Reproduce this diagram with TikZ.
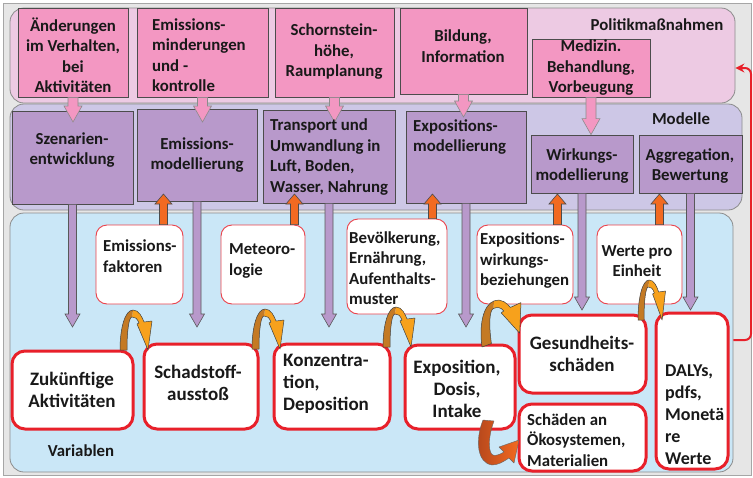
\documentclass[tikz,border=0pt]{standalone}
\usepackage{fontspec}
\setmainfont{Carlito}
\usetikzlibrary{fit,calc,arrows.meta}
\definecolor{frameBg}{HTML}{E6E6E6}
\definecolor{polBg}{HTML}{EDCAE3}
\definecolor{pinkBox}{HTML}{F397C2}
\definecolor{modBg}{HTML}{CDC7E6}
\definecolor{purpBox}{HTML}{B899CB}
\definecolor{varBg}{HTML}{CAE7F7}
\definecolor{redB}{HTML}{E8202A}
\definecolor{orangeUp}{HTML}{F26A21}
\definecolor{curvBrown}{HTML}{C47A24}
\definecolor{curvOrange}{HTML}{F7A11C}
\definecolor{darkBrown}{HTML}{B4461C}
\newcommand{\downblk}[6]{%
  \path[#1] let \p1=#2, \p2=#3 in
    (\x1-#4,\y1) -- (\x1-#4,\y2+#6) -- (\x1-#5,\y2+#6) -- (\x1,\y2) -- (\x1+#5,\y2+#6) -- (\x1+#4,\y2+#6) -- (\x1+#4,\y1) -- cycle;}
\newcommand{\upblk}[6]{%
  \path[#1] let \p1=#2, \p2=#3 in
    (\x1-#4,\y1) -- (\x1-#4,\y2-#6) -- (\x1-#5,\y2-#6) -- (\x1,\y2) -- (\x1+#5,\y2-#6) -- (\x1+#4,\y2-#6) -- (\x1+#4,\y1) -- cycle;}
\tikzset{
  panel/.style={draw=black!45, line width=0.8pt, rounded corners=14pt, inner sep=0pt},
  pbox/.style={draw=black!70, fill=pinkBox, line width=0.8pt, inner sep=0pt},
  mbox/.style={draw=black!70, fill=purpBox, line width=0.8pt, inner sep=0pt},
  wbox/.style={draw=redB!85, fill=white, line width=0.9pt, rounded corners=11pt, inner sep=0pt},
  vbox/.style={draw=redB, fill=white, line width=3pt, rounded corners=13pt, inner sep=0pt},
  tx/.style={font=\fontsize{16.8}{20.5}\selectfont\bfseries, align=center, inner sep=0pt, text=black!90},
  txl/.style={tx, align=left, anchor=west},
  txb/.style={font=\fontsize{19}{22}\selectfont\bfseries},
  pinkarr/.style={fill=pinkBox, draw=black!45, line width=0.6pt},
  purparr/.style={fill=purpBox, draw=black!65, line width=0.6pt},
  orarr/.style={fill=orangeUp, draw=black!70, line width=0.6pt},
  redline/.style={draw=redB, line width=2pt, rounded corners=6pt, -{Stealth[length=9pt,width=9pt]}},
  uturn/.pic={
    \fill[curvOrange] (13,-40) .. controls (19,-40) and (22,-33) .. (24,-28) -- (32,-29) -- (28,0) -- (17,-26) -- (19,-27) .. controls (17,-32) and (15,-33) .. (12,-33) -- cycle;
    \fill[curvBrown] (0,0) .. controls (0,-22) and (5,-40) .. (13,-40) -- (12,-33) .. controls (9,-33) and (7,-20) .. (7,0) -- cycle;
    \draw[black!75, line width=0.5pt, line join=round] (0,0) .. controls (0,-22) and (5,-40) .. (13,-40) .. controls (19,-40) and (22,-33) .. (24,-28) -- (32,-29) -- (28,0) -- (17,-26) -- (19,-27) .. controls (17,-32) and (15,-33) .. (12,-33) .. controls (9,-33) and (7,-20) .. (7,0) -- cycle;
  }
}
\begin{document}
\begin{tikzpicture}[x=1pt,y=-1pt]
\useasboundingbox (0,0) rectangle (753,477);
\fill[white] (0,0) rectangle (753,477);
\draw[fill=frameBg, draw=black!35, line width=0.8pt] (3,3) rectangle (751,475);

% panels
\node[panel, fill=polBg, fit={(10,8) (735,103)}] (polP) {};
\node[panel, fill=modBg, fit={(10,104) (742,210)}] (modP) {};
\node[panel, fill=varBg, fit={(10,213) (733,472)}] (varP) {};

% helper coordinates
\coordinate (pinkTip) at (0,122);
\coordinate (pinkTipB) at (0,117);
\coordinate (purpTip) at (0,327);
\coordinate (purpTipB) at (0,310);
\coordinate (orTip) at (0,194);
\coordinate (redA) at (0,340);
\coordinate (redC) at (751,68);

% Politik boxes
\node[pbox, fit={(18,8) (128,97)}] (pA) {};
\node[pbox, fit={(137,8) (268,97)}] (pB) {};
\node[pbox, fit={(275,8) (394,97)}] (pC) {};
\node[pbox, fit={(400,8) (527,94)}] (pD) {};
\node[pbox, fit={(532,39) (650,97)}] (pE) {};

% Modelle boxes
\node[mbox, fit={(12,111) (133,204)}] (mA) {};
\node[mbox, fit={(137,109) (257,201)}] (mB) {};
\node[mbox, fit={(263,110) (395,203)}] (mC) {};
\node[mbox, fit={(406,111) (526,203)}] (mD) {};
\node[mbox, fit={(531,135) (633,193)}] (mE) {};
\node[mbox, fit={(639,135) (742,193)}] (mF) {};

% input boxes
\node[wbox, fit={(96,225) (183,304)}] (wA) {};
\node[wbox, fit={(221,225) (305,304)}] (wB) {};
\node[wbox, fit={(347,219) (447,314)}] (wC) {};
\node[wbox, fit={(477,225) (573,304)}] (wD) {};
\node[wbox, fit={(597,225) (682,304)}] (wE) {};

% variable boxes
\node[vbox, fit={(12,351) (133,429)}] (vA) {};
\node[vbox, fit={(144,344) (258,429)}] (vB) {};
\node[vbox, fit={(274,344) (390,429)}] (vC) {};
\node[vbox, fit={(405,345) (515,429)}] (vD) {};
\node[vbox, fit={(519,315) (646,393)}] (vE) {};
\node[vbox, fit={(519,404) (646,471)}] (vF) {};
\node[vbox, fit={(656,313) (728,469)}] (vG) {};

% pink arrows
\downblk{pinkarr}{(pA.south)}{(pinkTip)}{5pt}{9pt}{16pt}
\downblk{pinkarr}{(pB.south)}{(pinkTip)}{5pt}{9pt}{16pt}
\downblk{pinkarr}{(pC.south)}{(pinkTip)}{5pt}{9pt}{16pt}
\downblk{pinkarr}{(pD.south)}{(pinkTipB)}{5pt}{9pt}{16pt}
\downblk{pinkarr}{(pE.south)}{(mE.north)}{5pt}{9pt}{16pt}

% purple arrows
\downblk{purparr}{(mA.south)}{(purpTip)}{4pt}{7.5pt}{13pt}
\downblk{purparr}{(mB.south)}{(purpTip)}{4pt}{7.5pt}{13pt}
\downblk{purparr}{(mC.south)}{(purpTip)}{4pt}{7.5pt}{13pt}
\downblk{purparr}{(mD.south)}{(purpTip)}{4pt}{7.5pt}{13pt}
\downblk{purparr}{(mE.south)}{(purpTipB)}{4pt}{7.5pt}{13pt}
\downblk{purparr}{(mF.south)}{(purpTipB)}{4pt}{7.5pt}{13pt}

% orange up arrows
\coordinate (oA) at ($(wA.north east)+(-20,0)$);
\coordinate (oB) at ($(wB.north east)+(-11,0)$);
\coordinate (oC) at ($(wC.north east)+(-15,0)$);
\coordinate (oD) at ($(wD.north east)+(-16,0)$);
\coordinate (oE) at ($(wE.north east)+(-23,0)$);
\upblk{orarr}{(oA)}{(orTip)}{4pt}{8.5pt}{10pt}
\upblk{orarr}{(oB)}{(orTip)}{4pt}{8.5pt}{10pt}
\upblk{orarr}{(oC)}{(orTip)}{4pt}{8.5pt}{10pt}
\upblk{orarr}{(oD)}{(orTip)}{4pt}{8.5pt}{10pt}
\upblk{orarr}{(oE)}{(orTip)}{4pt}{8.5pt}{10pt}

% curved arrows
\pic at (120,350) {uturn};
\pic at (252,349) {uturn};
\pic at (383,347) {uturn};
\pic[rotate=8, xscale=1.4, yslant=0.3] at (482,347) {uturn};
\pic[xscale=0.86] at (638,320) {uturn};
\shade[left color=darkBrown, right color=orangeUp, draw=black!60, line width=0.4pt, line join=round]
  (483,420) .. controls (475,440) and (477,463) .. (492,465) .. controls (498,465) and (503,462) .. (509,458)
  -- (514,463) -- (519,440) -- (499,447) -- (504,452) .. controls (499,455) and (495,456) .. (493,455)
  .. controls (489,454) and (487,440) .. (494,421) -- cycle;

% red feedback line
\draw[redline] (varP.east |- redA) -| (redC) -- (polP.east |- redC);

% texts
\node[tx] at (73,55) {Änderungen\\im Verhalten,\\bei\\Aktivitäten};
\node[txl] at (152,55) {Emissions-\\minderungen\\und -\\kontrolle};
\node[tx] at (334,52) {Schornstein-\\höhe,\\Raumplanung};
\node[tx] at (463,46) {Bildung,\\Information};
\node[tx] at (591,68) {Medizin.\\Behandlung,\\Vorbeugung};
\node[tx] at (657,25) {Politikmaßnahmen};

\node[tx] at (72,150) {Szenarien-\\entwicklung};
\node[tx] at (197,155) {Emissions-\\modellierung};
\node[txl] at (270,157) {Transport und\\Umwandlung in\\Luft, Boden,\\Wasser, Nahrung};
\node[txl] at (413,137) {Expositions-\\modellierung};
\node[tx] at (582,166) {Wirkungs-\\modellierung};
\node[tx] at (690,166) {Aggregation,\\Bewertung};
\node[tx] at (681,119) {Modelle};

\node[txl] at (103,256) {Emissions-\\faktoren};
\node[txl] at (229,261) {Meteoro-\\logie};
\node[txl] at (349,268) {Bevölkerung,\\Ernährung,\\Aufenthalts-\\muster};
\node[txl] at (480,261) {Expositions-\\wirkungs-\\beziehungen};
\node[tx] at (637,261) {Werte pro\\Einheit};

\node[tx, txb] at (72,390) {Zukünftige\\Aktivitäten};
\node[tx, txb] at (198,383) {Schadstoff-\\ausstoß};
\node[txl, txb] at (283,384) {Konzentra-\\tion,\\Deposition};
\node[tx, txb] at (457,389) {Exposition,\\Dosis,\\Intake};
\node[tx, txb] at (582,354) {Gesundheits-\\schäden};
\node[txl] at (527,440) {Schäden an\\Ökosystemen,\\Materialien};
\node[txl, font=\fontsize{18}{22}\selectfont\bfseries, anchor=north west] at (665,365) {DALYs,\\pdfs,\\Monetä\\re\\Werte};
\node[tx] at (81,451) {Variablen};
\end{tikzpicture}
\end{document}
